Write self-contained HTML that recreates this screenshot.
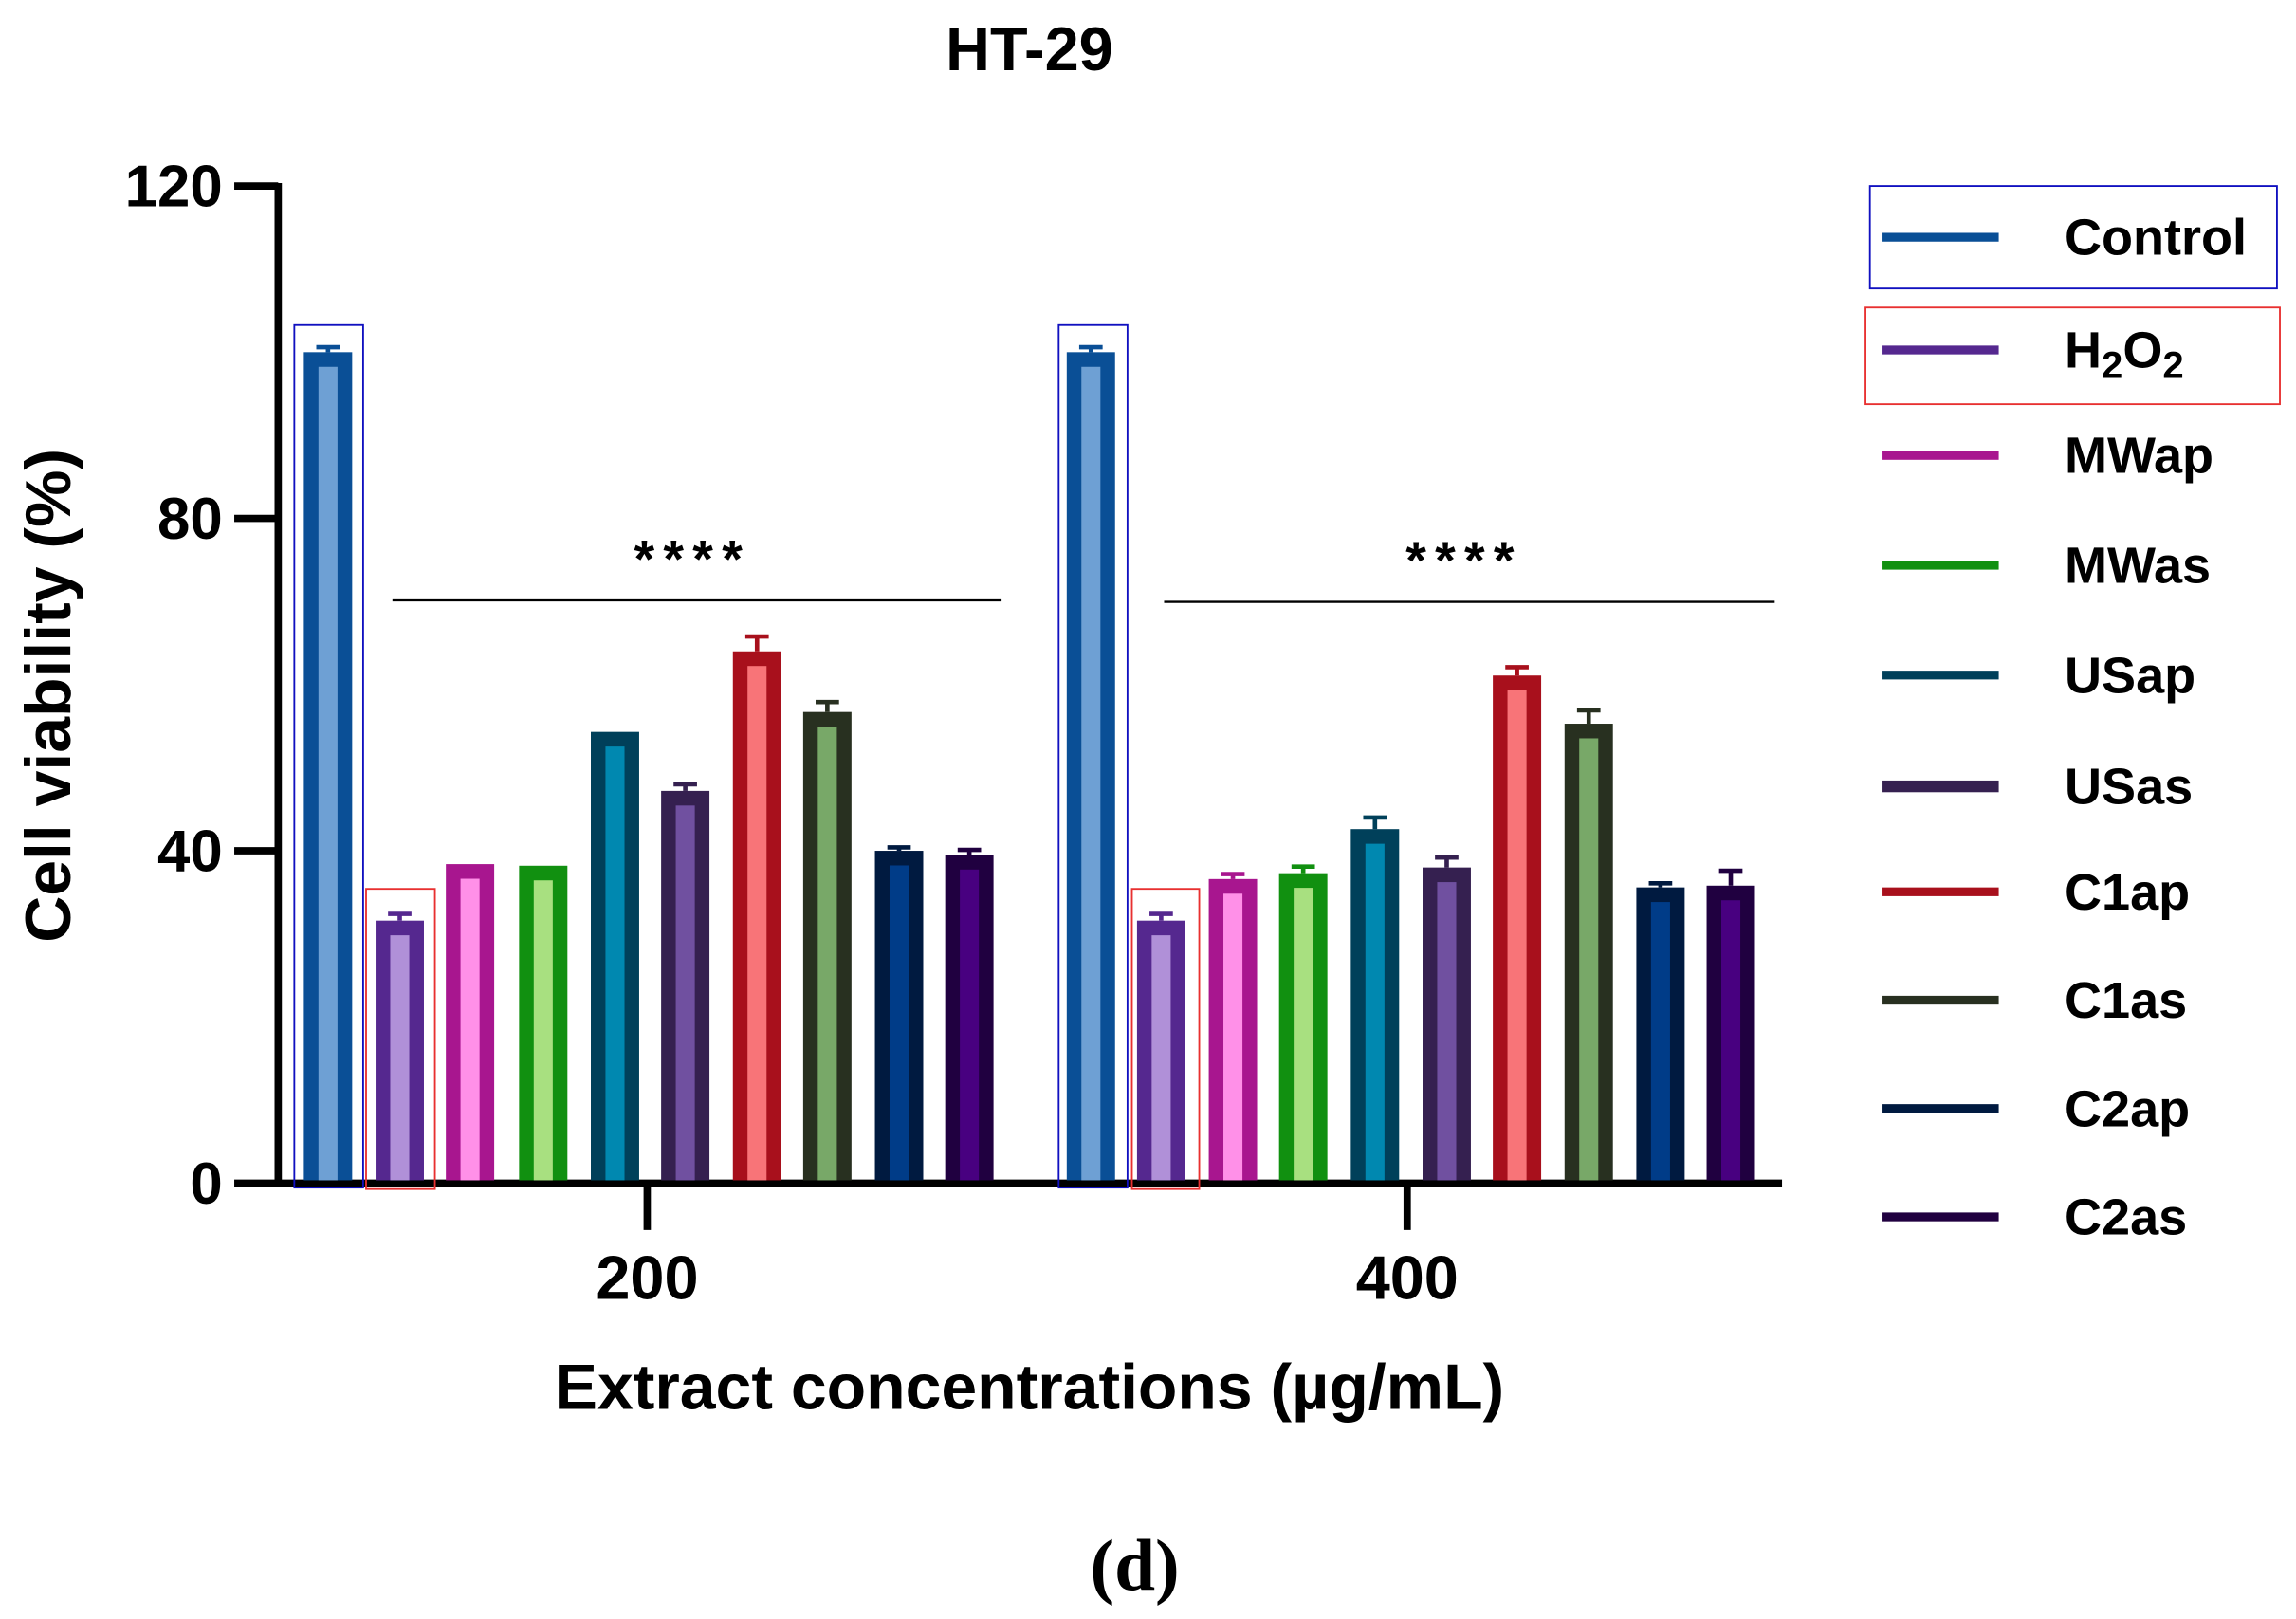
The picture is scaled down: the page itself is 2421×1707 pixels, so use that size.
<!DOCTYPE html>
<html><head><style>
html,body{margin:0;padding:0;background:#fff;}
svg{display:block;}
text{font-family:"Liberation Sans",Arial,sans-serif;font-weight:bold;fill:#000;}
</style></head><body>
<svg width="2421" height="1707" viewBox="0 0 1568 1105.6" preserveAspectRatio="none" xmlns="http://www.w3.org/2000/svg">
<rect width="1568" height="1106" fill="#fff"/>
<text x="703" y="48" font-size="42" text-anchor="middle">HT-29</text>
<line x1="190" y1="125" x2="190" y2="810" stroke="#000" stroke-width="5"/>
<line x1="160" y1="808" x2="1217" y2="808" stroke="#000" stroke-width="5"/>
<g stroke="#000" stroke-width="5">
<line x1="160" y1="127" x2="190" y2="127"/><line x1="160" y1="354" x2="190" y2="354"/>
<line x1="160" y1="581" x2="190" y2="581"/>
<line x1="442" y1="808" x2="442" y2="840"/><line x1="961" y1="808" x2="961" y2="840"/>
</g>
<g font-size="40" text-anchor="end">
<text x="152" y="141">120</text><text x="152" y="368">80</text><text x="152" y="595">40</text><text x="152" y="822">0</text>
</g>
<text font-size="44" text-anchor="middle" transform="translate(48,475) rotate(-90)">Cell viability (%)</text>
<g font-size="42" text-anchor="middle"><text x="442" y="887">200</text><text x="961" y="887">400</text></g>
<text x="703" y="962" font-size="44" text-anchor="middle">Extract concentrations (µg/mL)</text>
<text x="775" y="1086" font-size="50" text-anchor="middle" style="font-family:'Liberation Serif',serif;font-weight:bold">(d)</text>

<!-- group 200 -->
<g stroke-width="3" fill="none">
<path d="M216 237.1H232M224 237.1V240.5" stroke="#0a4f96"/>
<path d="M265 624.1H281M273 624.1V628.7" stroke="#55288f"/>
<path d="M460 535.6H476M468 535.6V540.1" stroke="#352050"/>
<path d="M509 434.6H525M517 434.6V444.8" stroke="#a8101c"/>
<path d="M557 479.4H573M565 479.4V486.2" stroke="#283020"/>
<path d="M606 578.7H622M614 578.7V581" stroke="#001a40"/>
<path d="M654 580.4H670M662 580.4V583.8" stroke="#200040"/>
<path d="M737 237.1H753M745 237.1V240.5" stroke="#0a4f96"/>
<path d="M785 624.1H801M793 624.1V628.7" stroke="#55288f"/>
<path d="M834 596.9H850M842 596.9V600.3" stroke="#a8168f"/>
<path d="M882 591.8H898M890 591.8V596.3" stroke="#119010"/>
<path d="M931 558.3H947M939 558.3V566.2" stroke="#00405a"/>
<path d="M980 585.6H996M988 585.6V592.4" stroke="#352050"/>
<path d="M1028 455.6H1044M1036 455.6V461.3" stroke="#a8101c"/>
<path d="M1077 485.1H1093M1085 485.1V494.2" stroke="#283020"/>
<path d="M1126 603.2H1142M1134 603.2V606" stroke="#001a40"/>
<path d="M1174 594.6H1190M1182 594.6V604.8" stroke="#200040"/>
</g>
<rect x="207.5" y="240.5" width="33" height="565.5" fill="#0a4f96"/><rect x="217.5" y="250.5" width="13" height="555.5" fill="#6ea0d4"/>
<rect x="256.5" y="628.7" width="33" height="177.3" fill="#55288f"/><rect x="266.5" y="638.7" width="13" height="167.3" fill="#b090d8"/>
<rect x="304.5" y="590.1" width="33" height="215.9" fill="#a8168f"/><rect x="314.5" y="600.1" width="13" height="205.9" fill="#ff90e8"/>
<rect x="354.5" y="591.2" width="33" height="214.8" fill="#119010"/><rect x="364.5" y="601.2" width="13" height="204.8" fill="#a8e080"/>
<rect x="403.5" y="499.8" width="33" height="306.2" fill="#00405a"/><rect x="413.5" y="509.8" width="13" height="296.2" fill="#0088b0"/>
<rect x="451.5" y="540.1" width="33" height="265.9" fill="#352050"/><rect x="461.5" y="550.1" width="13" height="255.9" fill="#7050a0"/>
<rect x="500.5" y="444.8" width="33" height="361.2" fill="#a8101c"/><rect x="510.5" y="454.8" width="13" height="351.2" fill="#f87478"/>
<rect x="548.5" y="486.2" width="33" height="319.8" fill="#283020"/><rect x="558.5" y="496.2" width="13" height="309.8" fill="#78a868"/>
<rect x="597.5" y="581" width="33" height="225" fill="#001a40"/><rect x="607.5" y="591" width="13" height="215" fill="#003c88"/>
<rect x="645.5" y="583.8" width="33" height="222.2" fill="#200040"/><rect x="655.5" y="593.8" width="13" height="212.2" fill="#480080"/>
<!-- group 400 -->
<rect x="728.5" y="240.5" width="33" height="565.5" fill="#0a4f96"/><rect x="738.5" y="250.5" width="13" height="555.5" fill="#6ea0d4"/>
<rect x="776.5" y="628.7" width="33" height="177.3" fill="#55288f"/><rect x="786.5" y="638.7" width="13" height="167.3" fill="#b090d8"/>
<rect x="825.5" y="600.3" width="33" height="205.7" fill="#a8168f"/><rect x="835.5" y="610.3" width="13" height="195.7" fill="#ff90e8"/>
<rect x="873.5" y="596.3" width="33" height="209.7" fill="#119010"/><rect x="883.5" y="606.3" width="13" height="199.7" fill="#a8e080"/>
<rect x="922.5" y="566.2" width="33" height="239.8" fill="#00405a"/><rect x="932.5" y="576.2" width="13" height="229.8" fill="#0088b0"/>
<rect x="971.5" y="592.4" width="33" height="213.6" fill="#352050"/><rect x="981.5" y="602.4" width="13" height="203.6" fill="#7050a0"/>
<rect x="1019.5" y="461.3" width="33" height="344.7" fill="#a8101c"/><rect x="1029.5" y="471.3" width="13" height="334.7" fill="#f87478"/>
<rect x="1068.5" y="494.2" width="33" height="311.8" fill="#283020"/><rect x="1078.5" y="504.2" width="13" height="301.8" fill="#78a868"/>
<rect x="1117.5" y="606" width="33" height="200" fill="#001a40"/><rect x="1127.5" y="616" width="13" height="190" fill="#003c88"/>
<rect x="1165.5" y="604.8" width="33" height="201.2" fill="#200040"/><rect x="1175.5" y="614.8" width="13" height="191.2" fill="#480080"/>

<line x1="268" y1="410" x2="684" y2="410" stroke="#000" stroke-width="1.5"/>
<line x1="795" y1="411" x2="1212" y2="411" stroke="#000" stroke-width="1.5"/>
<text x="473" y="394" font-size="36" text-anchor="middle" letter-spacing="6">****</text>
<text x="1000" y="395" font-size="36" text-anchor="middle" letter-spacing="6">****</text>
<g fill="none" stroke-width="1.2">
<rect x="201" y="222" width="47" height="589" stroke="#1010c0"/>
<rect x="250" y="607" width="47" height="205" stroke="#e83030"/>
<rect x="723" y="222" width="47" height="589" stroke="#1010c0"/>
<rect x="773" y="607" width="46" height="205" stroke="#e83030"/>
<rect x="1277" y="127" width="278" height="70" stroke="#1010c0"/>
<rect x="1274" y="210" width="283" height="66" stroke="#e83030"/>
</g>
<g font-size="35">
<rect x="1285" y="159" width="80" height="6" fill="#0a4f96"/><text x="1410" y="174">Control</text>
<rect x="1285" y="236" width="80" height="6" fill="#55288f"/><text x="1410" y="251">H<tspan font-size="26" dy="7">2</tspan><tspan dy="-7">O</tspan><tspan font-size="26" dy="7">2</tspan></text>
<rect x="1285" y="308" width="80" height="6" fill="#a8168f"/><text x="1410" y="323">MWap</text>
<rect x="1285" y="383" width="80" height="6" fill="#119010"/><text x="1410" y="398">MWas</text>
<rect x="1285" y="458" width="80" height="6" fill="#00405a"/><text x="1410" y="473">USap</text>
<rect x="1285" y="533" width="80" height="8" fill="#352050"/><text x="1410" y="549">USas</text>
<rect x="1285" y="606" width="80" height="6" fill="#a8101c"/><text x="1410" y="621">C1ap</text>
<rect x="1285" y="680" width="80" height="6" fill="#283020"/><text x="1410" y="695">C1as</text>
<rect x="1285" y="754" width="80" height="6" fill="#001a40"/><text x="1410" y="769">C2ap</text>
<rect x="1285" y="828" width="80" height="6" fill="#200040"/><text x="1410" y="843">C2as</text>
</g>
</svg>
</body></html>
